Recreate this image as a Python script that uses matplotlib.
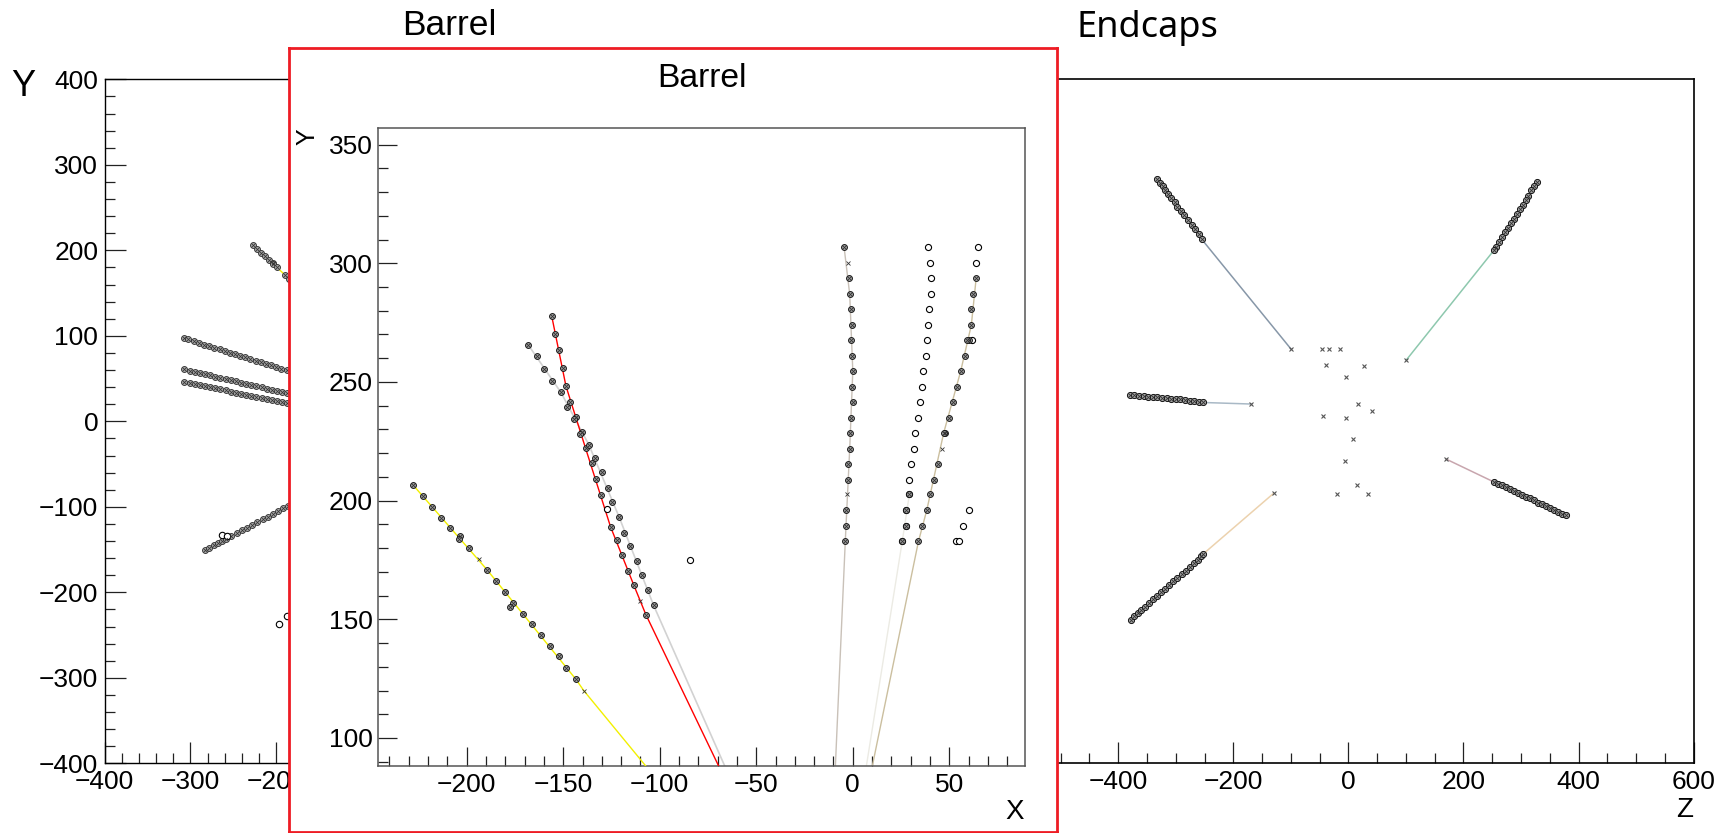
import matplotlib
matplotlib.use("Agg")
import matplotlib.pyplot as plt
from matplotlib.ticker import MultipleLocator, FuncFormatter

W, H = 1727, 833
plt.rcParams['font.family'] = ['Liberation Sans', 'DejaVu Sans']

# ---------------- data: inset (Barrel, X-Y zoom) ----------------
yellow_x = [-227.6, -222.8, -218.1, -213.1, -208.5, -203.3, -203.8, -198.6, -189.5, -185.0, -180.2, -176.0,
            -177.6, -171.0, -166.2, -161.7, -156.9, -152.1, -148.4, -143.4]
yellow_y = [206.4, 201.9, 197.3, 192.8, 188.6, 185.0, 183.7, 180.0, 170.9, 166.3, 161.4, 156.8,
            155.2, 152.4, 148.2, 143.4, 138.6, 134.7, 129.5, 124.7]
yellow_line_x = [-227.6, -189.5, -143.4, -139.3, -104.0]
yellow_line_y = [206.4, 170.9, 124.7, 119.9, 85.0]

red_x = [-156.0, -154.3, -152.1, -150.3, -148.6, -146.5, -143.4, -140.5, -138.4, -135.3, -133.1, -130.5,
         -125.5, -122.2, -119.5, -116.5, -113.4, -107.2]
red_y = [277.9, 270.3, 263.3, 255.8, 248.3, 241.7, 235.2, 229.0, 222.0, 215.7, 209.3, 202.2,
         189.0, 183.3, 176.9, 170.5, 164.3, 152.0]
red_line_x = [-156.0, -148.6, -138.4, -125.5, -113.4, -107.2, -67.6]
red_line_y = [277.9, 248.3, 222.0, 189.0, 164.3, 152.0, 85.0]

grey_x = [-168.1, -163.4, -159.8, -155.7, -151.2, -147.9, -144.4, -141.4, -136.7, -133.6, -130.0, -126.9,
          -124.6, -121.0, -118.4, -115.5, -112.0, -109.1, -106.2, -103.2]
grey_y = [265.6, 261.0, 255.3, 250.3, 245.6, 239.6, 234.4, 228.2, 223.5, 217.9, 212.2, 205.5,
          199.3, 193.0, 186.5, 180.8, 174.4, 168.5, 162.2, 155.9]
grey_line_x = [-168.1, -151.2, -136.7, -121.0, -103.2, -64.6]
grey_line_y = [265.6, 245.6, 223.5, 193.0, 155.9, 85.0]

vert_x = [-4.5, -2.1, -1.6, -1.0, -0.5, -1.0, -0.5, 0.0, -0.5, 0.0, -1.0, -1.6, -1.6, -2.6, -2.6, -3.6, -3.6, -3.9]
vert_y = [306.7, 293.7, 286.9, 280.7, 274.0, 267.7, 260.9, 254.6, 248.0, 241.7, 234.9, 228.6,
          221.9, 215.6, 208.8, 195.9, 189.4, 182.8]
vert_line_x = [-4.5, -1.6, 0.0, -1.6, -3.9, -9.2]
vert_line_y = [306.7, 286.9, 254.6, 221.9, 182.8, 85.0]

mid_open_x = [39.2, 40.2, 40.6, 40.6, 39.7, 38.8, 38.3, 37.8, 36.2, 35.7, 34.7, 33.8, 32.3, 31.8, 30.4,
              29.3, 29.3, 27.8, 27.3, 25.6]
mid_open_y = [306.7, 300.0, 293.7, 286.9, 280.7, 274.0, 267.7, 260.9, 254.6, 248.0, 241.7, 234.9, 228.6,
              221.9, 215.6, 208.8, 202.6, 195.9, 189.4, 182.8]
mid_hit_x = [29.3, 27.8, 27.3, 25.6]
mid_hit_y = [202.6, 195.9, 189.4, 182.8]
mid_line_x = [29.3, 25.6, 6.4]
mid_line_y = [202.6, 182.8, 85.0]

tan_x = [63.9, 62.5, 61.4, 61.4, 60.4, 59.4, 58.0, 55.9, 54.2, 51.8, 49.7, 48.0, 47.1, 44.0, 41.9, 40.2,
         38.3, 35.7, 34.0]
tan_y = [293.7, 286.9, 280.7, 274.0, 267.7, 267.7, 260.9, 254.6, 248.0, 241.7, 234.9, 228.6, 228.6,
         215.6, 208.8, 202.6, 195.9, 189.4, 182.8]
tan_line_x = [63.9, 61.4, 55.9, 47.1, 38.3, 34.0, 9.3]
tan_line_y = [293.7, 274.0, 254.6, 228.6, 195.9, 182.8, 85.0]

inset_cross_x = [-193.8, -139.3, -110.3, -2.6, -3.1, 46.3]
inset_cross_y = [175.6, 119.9, 157.7, 300.0, 202.6, 221.9]

inset_open_x = [64.7, 63.9, 61.8, 60.4, 56.9, 53.5, 55.1, -84.4, -127.5]
inset_open_y = [306.7, 300.0, 267.7, 195.9, 189.4, 182.8, 182.8, 174.9, 196.3]

# ---------------- data: left panel (Barrel, X-Y full) ----------------
trkB_x = [-307, -303, -296, -290, -284, -278, -272, -266, -260, -254, -248, -242, -236, -230, -224,
          -218, -212, -206, -200, -194, -188, -182]
trkB_y = [97.0, 95.7, 93.5, 91.7, 89.8, 87.9, 86.0, 84.1, 82.2, 80.4, 78.5, 76.6, 74.7, 72.8, 70.9,
          69.1, 67.2, 65.3, 63.4, 61.5, 59.6, 57.7]
trkC_x = [-307, -301, -295, -289, -283, -277, -271, -265, -259, -253, -247, -241, -235, -229, -223,
          -217, -211, -205, -199, -193, -187, -181]
trkC_y = [60.7, 59.3, 57.9, 56.5, 55.1, 53.7, 52.3, 50.9, 49.5, 48.1, 46.7, 45.3, 43.9, 42.5, 41.1,
          39.7, 38.3, 36.9, 35.5, 34.1, 32.7, 31.3]
trkD_y = [46.2, 44.9, 43.6, 42.4, 41.1, 39.9, 38.6, 37.3, 36.1, 34.8, 33.6, 32.3, 31.0, 29.8, 28.5,
          27.3, 26.0, 24.7, 23.5, 22.2, 21.0, 19.7]
trkE_x = [-283, -278, -273, -268, -263, -258, -253, -246, -240, -234, -228, -222, -216, -210, -204,
          -198, -192, -186, -180]
trkE_y = [-150.5, -147.8, -145.2, -142.5, -139.8, -137.1, -134.5, -130.7, -127.5, -124.3, -121.1,
          -117.9, -114.7, -111.4, -108.2, -105.0, -101.8, -98.6, -95.4]
left_open_x = [-263.0, -257.0, -196.4, -187.5]
left_open_y = [-133.0, -134.0, -237.0, -228.0]

# ---------------- data: right panel (Endcaps, Z-Y) ----------------
ul_z = [-332, -328, -323, -318, -313, -308, -302, -297, -291, -285, -279, -272, -266, -260, -255]
ul_y = [283, 279, 275, 270, 266, 261, 256, 251, 246, 241, 236, 230, 225, 219, 213]
ul_line_z = [-255, -99.8]
ul_line_y = [213, 84.6]

ur_z = [327, 323, 318, 313, 308, 303, 298, 293, 288, 283, 278, 272, 267, 262, 257, 253]
ur_y = [280, 275, 270, 264, 259, 253, 248, 243, 237, 232, 226, 221, 215, 210, 204, 200]
ur_line_z = [253, 100.7]
ur_line_y = [200, 71.7]

l_z = [-380, -372, -364, -356, -348, -340, -332, -324, -316, -308, -300, -292, -284, -276, -268, -260, -252]
l_y = [31, 30.5, 30, 29.5, 29, 28.5, 28, 27.5, 27, 26.5, 26, 25.5, 25, 24, 23.5, 23, 22]
l_line_z = [-252, -169]
l_line_y = [22, 20.2]

ll_z = [-378, -372, -366, -360, -353, -346, -339, -332, -325, -318, -311, -304, -297, -290, -283, -276,
        -269, -262, -256, -252]
ll_y = [-232, -228, -224, -221, -217, -212, -208, -204, -200, -196, -191, -187, -183, -179, -175, -170,
        -166, -162, -158, -155]
ll_line_z = [-252, -129.8]
ll_line_y = [-155, -84.2]

lr_z = [253, 260, 267, 274, 281, 288, 295, 302, 309, 316, 323, 330, 337, 344, 351, 358, 365, 372, 378]
lr_y = [-71, -73, -75, -77, -79.5, -82, -84, -86, -88, -90, -92.5, -95, -97, -99, -101, -103.5, -106, -108, -110]
lr_line_z = [253, 170.5]
lr_line_y = [-71, -44.4]

vtx_z = [-45.7, -34.4, -14.1, -38.3, 26.4, -3.6, 17.3, 41.4, -43.5, -3.6, 8.3, -5.2, 15.8, -19.4, 34.7,
         -99.8, 100.7, -169.0, -129.8, 170.5]
vtx_y = [84.6, 84.6, 84.6, 65.8, 65.0, 52.2, 20.2, 12.0, 6.2, 4.2, -20.9, -46.4, -74.5, -85.4, -85.4,
         84.6, 71.7, 20.2, -84.2, -44.4]

# ---------------- helpers ----------------
def box(x0, y0, x1, y1):
    return [x0 / W, 1 - y1 / H, (x1 - x0) / W, (y1 - y0) / H]

def root_axes(ax, xmaj, xmin, ymaj, ymin, majlen, minlen, ypad, xpad, fs=19):
    ax.xaxis.set_major_locator(MultipleLocator(xmaj))
    ax.xaxis.set_minor_locator(MultipleLocator(xmin))
    ax.yaxis.set_major_locator(MultipleLocator(ymaj))
    ax.yaxis.set_minor_locator(MultipleLocator(ymin))
    ax.tick_params(which='both', direction='in', top=False, right=False, width=0.9, colors='#222222',
                   labelcolor='black', labelsize=fs)
    ax.tick_params(which='major', length=majlen)
    ax.tick_params(which='minor', length=minlen)
    ax.tick_params(axis='y', which='both', pad=ypad)
    ax.tick_params(axis='x', which='both', pad=xpad)

def visible_labels(lo, hi):
    # labels outside [lo, hi] lie under the red inset frame and are not shown
    def fmt(v, pos):
        if v < lo - 1e-6 or v > hi + 1e-6:
            return ''
        return f'{v:.0f}'.replace('-', '\u2212')
    return FuncFormatter(fmt)

hit_kw = dict(ls='none', marker='o', mfc='#a4a4a4', mec='#111111', mew=0.7)
open_kw = dict(ls='none', marker='o', mfc='white', mec='black', mew=0.8)
cross_kw = dict(ls='none', marker='x', color='#333333', mew=0.6)

fig = plt.figure(figsize=(W / 100, H / 100), dpi=100)

# ---------------- left panel ----------------
axL = fig.add_axes(box(104.5, 79.3, 791.5, 763.3))
axL.set_xlim(-400, 400)
axL.set_ylim(-400, 400)
root_axes(axL, 100, 20, 100, 20, 15, 7.5, 4.5, 5)
axL.xaxis.set_major_formatter(visible_labels(-400, -200))
for s in axL.spines.values():
    s.set_linewidth(1.0)
axL.plot(trkB_x, trkB_y, color='#1010c8', lw=1.0, zorder=3)
axL.plot(yellow_line_x, yellow_line_y, color='#f0f000', lw=1.0, zorder=3)
for xs, ys in [(trkB_x, trkB_y), (trkC_x, trkC_y), (trkC_x, trkD_y), (trkE_x, trkE_y), (yellow_x, yellow_y)]:
    axL.plot(xs, ys, ms=4.2, zorder=4, **{**hit_kw, 'mfc': '#b0b0b0', 'mec': '#303030'})
    axL.plot(xs, ys, ms=2.0, zorder=5, **cross_kw)
axL.plot(left_open_x, left_open_y, ms=4.6, zorder=4, **open_kw)
fig.text(23 / W, 1 - 87 / H, 'Y', fontsize=26, ha='center', va='center')
fig.text(449.7 / W, 1 - 35 / H, 'Barrel', fontsize=25.5, ha='center', va='baseline')

# ---------------- right panel ----------------
axR = fig.add_axes(box(945.6, 79.3, 1693.6, 763.3))
axR.set_xlim(-700, 600)
axR.set_ylim(-400, 400)
root_axes(axR, 200, 50, 100, 20, 15, 7.5, 4.5, 5)
axR.xaxis.set_major_formatter(visible_labels(-400, 600))
axR.tick_params(axis='y', labelleft=False)
for s in axR.spines.values():
    s.set_linewidth(1.2)
for zs, ys, lz, ly, c in [(ul_z, ul_y, ul_line_z, ul_line_y, '#8797a8'),
                          (ur_z, ur_y, ur_line_z, ur_line_y, '#8ec8ae'),
                          (l_z, l_y, l_line_z, l_line_y, '#a9b9c6'),
                          (ll_z, ll_y, ll_line_z, ll_line_y, '#ecd2ae'),
                          (lr_z, lr_y, lr_line_z, lr_line_y, '#c8a6ae')]:
    axR.plot(lz, ly, color=c, lw=1.1, zorder=3)
    axR.plot(zs, ys, ms=4.4, zorder=4, **hit_kw)
    axR.plot(zs, ys, ms=2.2, zorder=5, **cross_kw)
axR.plot(vtx_z, vtx_y, ls='none', marker='x', ms=2.5, color='#555555', mew=0.8, zorder=5)
fig.text(1684.7 / W, 1 - 810 / H, 'Z', fontsize=20, ha='center', va='center')
fig.text(1076 / W, 1 - 37 / H, 'Endcaps', fontsize=26, ha='left', va='baseline',
         family=['Noto Sans', 'DejaVu Sans'])

# ---------------- inset panel ----------------
panel = fig.add_axes(box(289, 47.7, 1057.3, 832))
panel.set_xticks([])
panel.set_yticks([])
panel.set_facecolor('white')
for s in panel.spines.values():
    s.set_color('#ee1c24')
    s.set_linewidth(2.0)

axI = fig.add_axes(box(378.3, 128, 1025, 766))
axI.set_xlim(-245.8, 89.2)
axI.set_ylim(88.2, 357.0)
root_axes(axI, 50, 10, 50, 10, 14, 7, 4, 5)
for s in axI.spines.values():
    s.set_color('#555555')
    s.set_linewidth(1.1)

axI.plot(yellow_line_x, yellow_line_y, color='#f2f000', lw=1.0, zorder=3)
axI.plot(red_line_x, red_line_y, color='#ff0000', lw=1.0, zorder=3)
axI.plot(grey_line_x, grey_line_y, color='#d2d2d2', lw=1.2, zorder=2)
axI.plot(vert_line_x, vert_line_y, color='#c9c1b8', lw=1.0, zorder=2)
axI.plot(mid_line_x, mid_line_y, color='#ecebe4', lw=1.0, zorder=2)
axI.plot(tan_line_x, tan_line_y, color='#cbbf9f', lw=1.0, zorder=2)

axI.plot(mid_open_x, mid_open_y, ms=4.4, zorder=4, **open_kw)
axI.plot(inset_open_x, inset_open_y, ms=4.4, zorder=4, **open_kw)
for xs, ys in [(yellow_x, yellow_y), (red_x, red_y), (grey_x, grey_y), (vert_x, vert_y),
               (mid_hit_x, mid_hit_y), (tan_x, tan_y)]:
    axI.plot(xs, ys, ms=4.2, zorder=5, **hit_kw)
    axI.plot(xs, ys, ms=2.2, zorder=6, **cross_kw)
axI.plot(inset_cross_x, inset_cross_y, ms=2.4, zorder=6, **cross_kw)

fig.text(701.7 / W, 1 - 86.7 / H, 'Barrel', fontsize=24.3, ha='center', va='baseline')
fig.text(307 / W, 1 - 137 / H, 'Y', fontsize=18, ha='center', va='center', rotation=90)
fig.text(1015 / W, 1 - 812 / H, 'X', fontsize=20, ha='center', va='center')

fig.savefig('out.png', dpi=100, facecolor='white')
